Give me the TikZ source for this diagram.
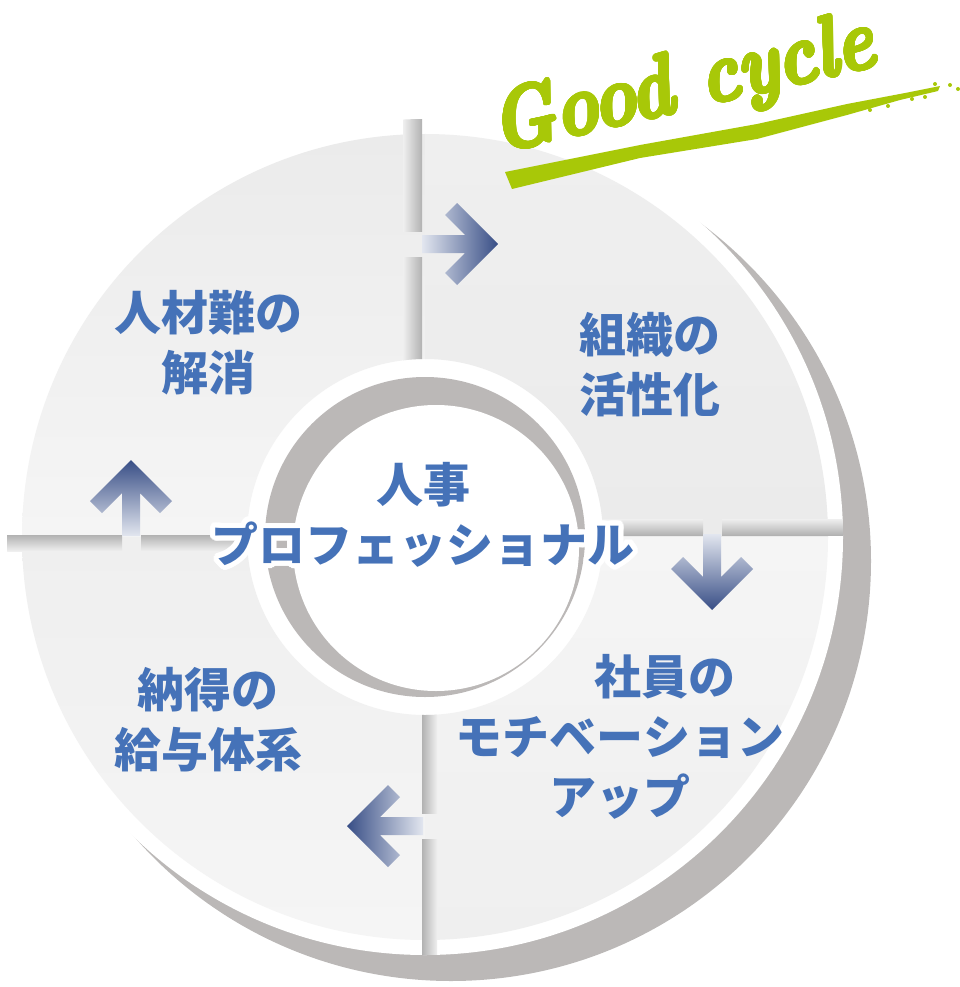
\documentclass[tikz,border=0pt]{standalone}
\usepackage{fontspec}
\usepackage{contour}
\usetikzlibrary{calc}
\newfontfamily\jpfont{Noto Sans CJK JP}
\definecolor{cycblue}{RGB}{69,114,184}
\definecolor{cycgreen}{RGB}{168,200,8}
\definecolor{ringshadow}{RGB}{187,184,183}
\definecolor{sepgrey}{RGB}{178,178,178}
\definecolor{secfill}{RGB}{239,239,239}
\definecolor{secfilllight}{RGB}{245,245,245}
\definecolor{secfilldark}{RGB}{235,235,235}
\definecolor{navy}{RGB}{56,78,134}
\definecolor{midblue}{RGB}{135,156,204}
\definecolor{paleblue}{RGB}{226,230,239}
\contourlength{5pt}
\contournumber{32}

\newcommand{\cycarrow}[1]{%
  \shade[#1]
    (0,0) -- (-41,41) -- (-53,29) -- (-33,9) -- (-76,9) -- (-76,-9)
    -- (-33,-9) -- (-53,-29) -- (-41,-41) -- cycle;}

\begin{document}
\begin{tikzpicture}[x=1pt,y=-1pt,
  lbl/.style={text=cycblue, font=\jpfont\bfseries\fontsize{47}{60}\selectfont,
    align=center, inner sep=0pt}]
\useasboundingbox (0,0) rectangle (960,987);
\coordinate (c) at (425,537);

% ring with its shadow
\fill[ringshadow] (451,561) circle[radius=420];
\fill[white] (c) circle[radius=418];
\shade[top color=secfilldark, bottom color=secfilllight] ($(c)+(180:403)$) arc[start angle=180, end angle=270, radius=403]
  -- ($(c)+(270:178)$) arc[start angle=270, end angle=180, radius=178] -- cycle;
\shade[top color=secfill, bottom color=secfilldark] ($(c)+(270:403)$) arc[start angle=270, end angle=360, radius=403]
  -- ($(c)+(0:178)$) arc[start angle=360, end angle=270, radius=178] -- cycle;
\shade[top color=secfilllight, bottom color=secfill] ($(c)+(0:403)$) arc[start angle=0, end angle=90, radius=403]
  -- ($(c)+(90:178)$) arc[start angle=90, end angle=0, radius=178] -- cycle;
\shade[top color=secfill, bottom color=secfilllight] ($(c)+(90:403)$) arc[start angle=90, end angle=180, radius=403]
  -- ($(c)+(180:178)$) arc[start angle=180, end angle=90, radius=178] -- cycle;

% joints between the four parts
\begin{scope}[even odd rule]
\clip (c) circle[radius=418] (c) circle[radius=178];
\shade[left color=secfill, right color=sepgrey] (403,110) rectangle (422,231);
\shade[left color=secfill, right color=sepgrey] (403,257) rectangle (422,370);
\shade[top color=sepgrey, bottom color=secfill] (0,535) rectangle (122,551);
\shade[top color=sepgrey, bottom color=secfill] (141,535) rectangle (260,551);
\shade[top color=secfill, bottom color=sepgrey] (590,519) rectangle (703,535);
\shade[top color=secfill, bottom color=sepgrey] (722,519) rectangle (860,535);
\shade[left color=sepgrey, right color=secfill] (422,700) rectangle (437,813);
\shade[left color=sepgrey, right color=secfill] (422,839) rectangle (437,965);
\end{scope}

% hub
\fill[ringshadow] (c) circle[radius=160];
\fill[white] (436,548) circle[radius=143];

% arrows
\cycarrow{shift={(498,244)}, left color=paleblue, middle color=midblue, right color=navy}
\cycarrow{shift={(712,610)}, rotate=-90, top color=paleblue, middle color=midblue, bottom color=navy}
\cycarrow{shift={(347,826)}, rotate=180, left color=navy, middle color=midblue, right color=paleblue}
\cycarrow{shift={(131,460)}, rotate=90, top color=navy, middle color=midblue, bottom color=paleblue}

% labels
\node[lbl] (jinzai) at (208,343) {人材難の\\解消};
\node[lbl] (soshiki) at (650,365) {組織の\\活性化};
\node[lbl] (shain) at (620,737) {\hspace*{90pt}社員の\\モチベーション\\アップ};
\node[lbl] (kyuyo) at (208,720) {納得の\\給与体系};
\node[lbl] (hub) at (423,517) {\contour{white}{人事}\\\contour{white}{プロフェッショナル}};

% good cycle
\fill[cycgreen] (505,172) -- (640,145) -- (757,124) -- (847,104) -- (905,93) -- (940,86)
  -- (938,91) -- (900,100) -- (847,115) -- (757,139) -- (640,158) -- (512,189) -- cycle;
\foreach \p in {(950,85),(925,97),(912,99),(888,106),(870,110),(935,84),(958,89)}
  \fill[cycgreen] \p circle[radius=2];
\node[text=cycgreen, font=\bfseries\itshape\fontsize{72}{72}\selectfont, rotate=13, yscale=1.2]
  (good) at (684,89) {\contourlength{1.4pt}\contour{cycgreen}{Good cycle}};
\end{tikzpicture}
\end{document}
